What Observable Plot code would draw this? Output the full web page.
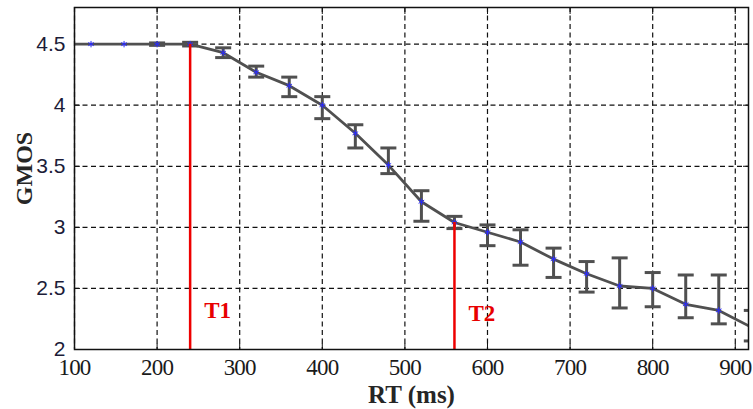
<!DOCTYPE html>
<html>
<head>
<meta charset="utf-8">
<script src="https://cdn.jsdelivr.net/npm/d3@7"></script>
<script src="https://cdn.jsdelivr.net/npm/@observablehq/plot@0.6"></script>
<style>
  html, body { margin: 0; padding: 0; background: #fff; }
  #chart svg { display: block; }
  g[aria-label="x-axis tick label"] { letter-spacing: -0.8px; }
</style>
</head>
<body>
<div id="chart"></div>
<script>
const rt    = [100, 120, 160, 200, 240, 280, 320, 360, 400, 440, 480, 520, 560, 600, 640, 680, 720, 760, 800, 840, 880, 920];
const gmos  = [4.5, 4.5, 4.5, 4.5, 4.5, 4.43, 4.27, 4.16, 4.0, 3.77, 3.51, 3.21, 3.04, 2.96, 2.88, 2.74, 2.62, 2.52, 2.50, 2.37, 2.32, 2.18];
const errLo = [null, null, null, 4.49, 4.485, 4.39, 4.23, 4.07, 3.89, 3.65, 3.44, 3.05, 2.99, 2.85, 2.69, 2.59, 2.47, 2.34, 2.35, 2.26, 2.21, 2.07];
const errHi = [null, null, null, 4.51, 4.515, 4.47, 4.32, 4.23, 4.07, 3.84, 3.65, 3.30, 3.09, 3.02, 2.98, 2.83, 2.72, 2.75, 2.63, 2.61, 2.61, 2.32];
const xTicks = [100, 200, 300, 400, 500, 600, 700, 800, 900];
const yTicks = [2, 2.5, 3, 3.5, 4, 4.5];
const thresholds = [240, 560];
const thresholdLabels = ["T1", "T2"];
const thresholdLabelY = [2.32, 2.295];
const xLabel = "RT (ms)";
const yLabel = "GMOS";

const data = rt.map((x, i) => ({x, y: gmos[i], lo: errLo[i], hi: errHi[i]}));
const errData = data.filter(d => d.lo != null);
const tData = thresholds.map((x, i) => ({x, top: gmos[rt.indexOf(x)], label: thresholdLabels[i], ly: thresholdLabelY[i]}));

const capSymbol = {
  draw(ctx, size) {
    const w = Math.sqrt(size / Math.PI);
    ctx.moveTo(-w, 0);
    ctx.lineTo(w, 0);
  }
};

const gray = "#505050";
const chart = Plot.plot({
  width: 753,
  height: 409,
  marginTop: 7,
  marginRight: 5,
  marginBottom: 60,
  marginLeft: 74,
  style: {fontFamily: "'Liberation Serif', serif", fontSize: "20px", color: "#222", background: "#fff"},
  x: {domain: [100, 916], ticks: xTicks},
  y: {domain: [2, 4.8], ticks: yTicks},
  marks: [
    Plot.gridX(xTicks, {stroke: "#111", strokeOpacity: 1, strokeWidth: 1.2, strokeDasharray: "5,3.5"}),
    Plot.gridY(yTicks, {stroke: "#111", strokeOpacity: 1, strokeWidth: 1.2, strokeDasharray: "5,3.5"}),
    Plot.axisX(xTicks, {anchor: "bottom", tickSize: -6, tickPadding: 15, tickFormat: d => String(d), label: null, stroke: "#111", fill: "#1a1a1a", fontFamily: "'Liberation Serif', serif", fontSize: 23}),
    Plot.axisX(xTicks, {anchor: "top", tickSize: -6, tickFormat: () => "", label: null, stroke: "#111"}),
    Plot.axisY(yTicks, {anchor: "left", tickSize: -6, tickPadding: 15, tickFormat: d => String(d), label: null, stroke: "#111", fill: "#1c1c38", fontFamily: "'Liberation Sans', sans-serif", fontSize: 21}),
    Plot.axisY(yTicks, {anchor: "right", tickSize: -6, tickFormat: () => "", label: null, stroke: "#111"}),
    Plot.ruleX(errData, {x: "x", y1: "lo", y2: "hi", stroke: gray, strokeWidth: 3, clip: true}),
    Plot.dot(errData, {x: "x", y: "lo", symbol: capSymbol, r: 8, stroke: gray, strokeWidth: 3, clip: true}),
    Plot.dot(errData, {x: "x", y: "hi", symbol: capSymbol, r: 8, stroke: gray, strokeWidth: 3, clip: true}),
    Plot.line(data, {x: "x", y: "y", stroke: gray, strokeWidth: 2.8, clip: true}),
    Plot.dot(data.filter(d => d.x > 100), {x: "x", y: "y", symbol: "asterisk", r: 3, stroke: "#2a2aff", strokeWidth: 1, clip: true}),
    Plot.ruleX(tData, {x: "x", y1: 2, y2: "top", stroke: "#ee0000", strokeWidth: 2.5}),
    Plot.text(tData, {x: "x", y: "ly", text: "label", textAnchor: "start", lineAnchor: "middle", dx: 14, fill: "#e80000", fontWeight: "bold", fontSize: 23}),
    Plot.text([xLabel], {frameAnchor: "bottom", textAnchor: "middle", lineAnchor: "middle", dy: 45, fontWeight: "bold", fontSize: 25, fill: "#262626"}),
    Plot.text([yLabel], {frameAnchor: "left", textAnchor: "middle", lineAnchor: "middle", dx: -50, dy: -10, rotate: -90, fontWeight: "bold", fontSize: 24, fill: "#262626"}),
    Plot.frame({stroke: "#111", strokeWidth: 1.5})
  ]
});
document.getElementById("chart").appendChild(chart);
</script>
</body>
</html>
